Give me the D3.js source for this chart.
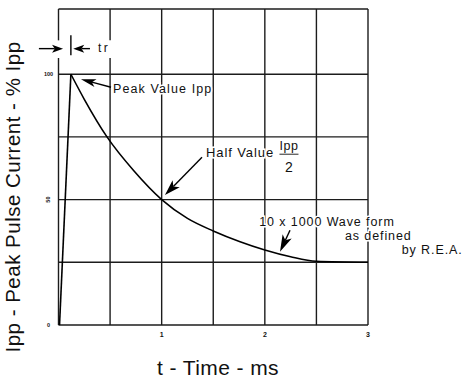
<!DOCTYPE html>
<html>
<head>
<meta charset="utf-8">
<script src="https://cdn.jsdelivr.net/npm/d3@7"></script>
<style>
    body { margin: 0; background: #fff; }
    svg text { font-family: 'Liberation Sans', Arial, sans-serif; fill: #111; }
</style>
</head>
<body>
<div id="chart"></div>
<script>
// rise of the pulse (straight line up to the peak)
const riseTime = [0.01, 0.12];
const riseValue = [0, 100];
// decay part
const decayTime = [0.12, 0.25, 0.47, 0.73, 1.0, 1.25, 1.5, 1.76, 2.0, 2.25, 2.5, 3.0];
const decayValue = [100, 90, 75, 61.5, 50, 42.5, 37.5, 33.2, 29.9, 27.2, 25.4, 25];

const xGrid = [0, 0.5, 1, 1.5, 2, 2.5, 3];
const yGrid = [0, 25, 50, 75, 100];
const xTickLabels = ['1', '2', '3'];
const xTickValues = [1, 2, 3];
const yTickLabels = ['0', '50', '100'];
const yTickValues = [0, 50, 100];
const frameTop = 126;

const margin = { left: 58.5, right: 94, top: 9, bottom: 55 };
const width = 462 - margin.left - margin.right;
const height = 380 - margin.top - margin.bottom;

const x = d3.scaleLinear().domain([0, 3]).range([0, width]);
const y = d3.scaleLinear().domain([0, frameTop]).range([height, 0]);

const svg = d3.select('#chart')
    .append('svg')
    .attr('width', 462)
    .attr('height', 380);

const g = svg.append('g').attr('transform', `translate(${margin.left},${margin.top})`);

const ink = '#1c1c1c';

// grid: horizontal lines + top frame
g.selectAll('.hgrid')
    .data(yGrid.concat([frameTop]))
    .enter()
    .append('line')
    .attr('class', 'hgrid')
    .attr('x1', x(0))
    .attr('x2', x(3))
    .attr('y1', d => y(d))
    .attr('y2', d => y(d))
    .attr('stroke', ink)
    .attr('stroke-width', 1.4);

// vertical lines; the first two leave room for the tr marker
const gapTop = 113.5, gapBottom = 106.5;
xGrid.forEach(t => {
    const segs = t <= 0.5 ? [[frameTop, gapTop], [gapBottom, 0]] : [[frameTop, 0]];
    segs.forEach(s => {
        g.append('line')
            .attr('x1', x(t)).attr('x2', x(t))
            .attr('y1', y(s[0])).attr('y2', y(s[1]))
            .attr('stroke', ink)
            .attr('stroke-width', 1.4);
    });
});

// waveform
const line = d3.line().x(d => x(d[0])).y(d => y(d[1]));
g.append('path')
    .datum(d3.zip(riseTime, riseValue))
    .attr('fill', 'none')
    .attr('stroke', '#000')
    .attr('stroke-width', 1.6)
    .attr('d', line.curve(d3.curveLinear));
g.append('path')
    .datum(d3.zip(decayTime, decayValue))
    .attr('fill', 'none')
    .attr('stroke', '#000')
    .attr('stroke-width', 1.6)
    .attr('d', line.curve(d3.curveMonotoneX));

// tick labels
g.selectAll('.xlab')
    .data(xTickValues)
    .enter()
    .append('text')
    .attr('x', d => x(d))
    .attr('y', height + 12)
    .attr('text-anchor', 'middle')
    .attr('font-size', 7)
    .attr('font-weight', 'bold')
    .text((d, i) => xTickLabels[i]);

g.selectAll('.ylab')
    .data(yTickValues)
    .enter()
    .append('text')
    .attr('transform', d => `translate(${-10},${y(d)}) rotate(${d === 50 ? -90 : 0})`)
    .attr('text-anchor', 'middle')
    .attr('dy', '0.35em')
    .attr('font-size', 5.5)
    .attr('font-weight', 'bold')
    .text((d, i) => yTickLabels[i]);

// axis titles
svg.append('text')
    .attr('transform', `translate(19.5,${margin.top + height / 2 + 30}) rotate(-90)`)
    .attr('text-anchor', 'middle')
    .attr('font-size', 20.5)
    .attr('letter-spacing', 0.5)
    .text('Ipp - Peak Pulse Current - % Ipp');

svg.append('text')
    .attr('x', 218)
    .attr('y', 375)
    .attr('text-anchor', 'middle')
    .attr('font-size', 21)
    .attr('letter-spacing', 0.4)
    .text('t - Time - ms');

// arrows: [tailT, tailV, tipT, tipV, headLength, headWidth]
const arrows = [
    [0.509, 94.8, 0.218, 98.0, 15, 8],
    [1.391, 66.9, 1.032, 51.8, 16, 10],
    [2.244, 37.8, 2.147, 29.2, 17, 10],
    [-0.19, 110.2, 0.044, 110.2, 11, 8],
    [0.305, 110.2, 0.143, 110.2, 11, 8]
];

const drawArrow = a => {
    const x1 = x(a[0]), y1 = y(a[1]), x2 = x(a[2]), y2 = y(a[3]);
    const ang = Math.atan2(y2 - y1, x2 - x1);
    const bx = x2 - a[4] * Math.cos(ang), by = y2 - a[4] * Math.sin(ang);
    const nx = -Math.sin(ang) * a[5] / 2, ny = Math.cos(ang) * a[5] / 2;
    const nb = 0.75;
    const mx = x2 - a[4] * nb * Math.cos(ang), my = y2 - a[4] * nb * Math.sin(ang);
    g.append('line')
        .attr('x1', x1).attr('y1', y1).attr('x2', mx).attr('y2', my)
        .attr('stroke', '#000').attr('stroke-width', 1.4);
    g.append('path')
        .attr('d', `M${x2},${y2}L${bx + nx},${by + ny}L${mx},${my}L${bx - nx},${by - ny}Z`)
        .attr('fill', '#000');
};
arrows.forEach(drawArrow);

// tr tick mark at the peak time
g.append('line')
    .attr('x1', x(riseTime[1])).attr('x2', x(riseTime[1]))
    .attr('y1', y(115.5)).attr('y2', y(107.6))
    .attr('stroke', '#000').attr('stroke-width', 1.4);

// annotation texts: [t, value, text, size, spacing]
const notes = [
    [0.383, 108.9, 'tr', 12, 2.5],
    [0.529, 92.4, 'Peak Value Ipp', 12.5, 1.1],
    [1.43, 67.1, 'Half Value', 13, 0.9],
    [1.946, 39.4, '10 x 1000 Wave form', 12.5, 0.9],
    [2.777, 33.9, 'as defined', 12.5, 0.9],
    [3.327, 28.3, 'by R.E.A.', 12.5, 0.9]
];

g.selectAll('.note')
    .data(notes)
    .enter()
    .append('text')
    .attr('x', d => x(d[0]))
    .attr('y', d => y(d[1]))
    .attr('font-size', d => d[3])
    .attr('letter-spacing', d => d[4])
    .attr('stroke', '#fff')
    .attr('stroke-width', 3)
    .attr('paint-order', 'stroke')
    .text(d => d[2]);

// Ipp / 2 fraction
const fracT = 2.234;
g.append('text')
    .attr('x', x(fracT)).attr('y', y(69.6))
    .attr('text-anchor', 'middle')
    .attr('font-size', 12.5)
    .attr('letter-spacing', 0.5)
    .text('Ipp');
g.append('line')
    .attr('x1', x(fracT) - 9.5).attr('x2', x(fracT) + 9.5)
    .attr('y1', y(68.1)).attr('y2', y(68.1))
    .attr('stroke', '#111').attr('stroke-width', 0.9);
g.append('text')
    .attr('x', x(fracT)).attr('y', y(61.1))
    .attr('text-anchor', 'middle')
    .attr('font-size', 14)
    .text('2');
</script>
</body>
</html>
